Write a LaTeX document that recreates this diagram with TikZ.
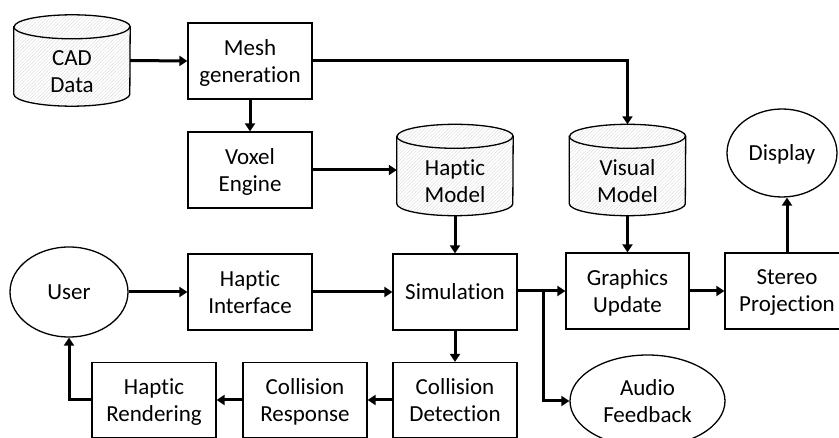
\documentclass[tikz,border=0pt]{standalone}
\usepackage{fontspec}
\setmainfont{Carlito}[Ligatures={NoCommon}]
\usetikzlibrary{arrows.meta,shapes.geometric,patterns.meta,backgrounds}
\begin{document}
\begin{tikzpicture}[x=1pt,y=-1pt,
  txt/.style={font=\fontsize{23}{27}\selectfont, align=center},
  every node/.style={txt, inner sep=0pt},
  % sit the words slightly below the middle of their frame
  lowered/.style={text depth=-10pt},
  proc/.style={draw, line width=1.3pt, minimum width=124pt, minimum height=76pt, lowered},
  % frame of a data store; the drum itself is drawn behind it
  store/.style={minimum width=116pt, minimum height=91pt},
  storetext/.style={txt, yshift=-11pt},
  drum/.style={draw, line width=1.3pt,
    pattern={Lines[angle=45,distance=2.4pt,line width=0.3pt]}, pattern color=gray!35},
  rim/.style={draw, line width=1.3pt},
  actor/.style={ellipse, draw, line width=1.3pt, lowered},
  flow/.style={line width=3pt, -{Triangle[length=8pt,width=10pt]}},
  joint/.style={line width=3pt}
]
\useasboundingbox (0,0) rectangle (839,438);

% data sources and pre-processing
\node[store, label={[storetext]center:CAD\\Data}]     (cad) at (72,60.5)   {};
\node[proc]  (mesh)  at (250,61)    {Mesh\\generation};
\node[proc]  (voxel) at (250,170)   {Voxel\\Engine};
\node[store, label={[storetext]center:Haptic\\Model}] (hm)  at (455,170)   {};
\node[store, label={[storetext]center:Visual\\Model}] (vm)  at (627.5,170) {};
\node[actor, minimum width=110pt, minimum height=88pt] (disp) at (782,153) {Display};

% drums of the data stores (end ellipse radii 58pt x 12pt)
\begin{scope}[on background layer]
\foreach \n in {cad,hm,vm} {
  \path[drum] ([yshift=-12pt]\n.north west) -- ([yshift=12pt]\n.south west)
    arc[start angle=180, end angle=360, x radius=58pt, y radius=12pt]
    -- ([yshift=-12pt]\n.north east)
    arc[start angle=0, end angle=180, x radius=58pt, y radius=12pt] -- cycle;
  \path[rim] ([yshift=-12pt]\n.north west)
    arc[start angle=180, end angle=360, x radius=58pt, y radius=12pt];
}
\end{scope}

% main loop
\node[actor, minimum width=118pt, minimum height=90pt] (user) at (69,292) {User};
\node[proc] (hi)  at (250,292)   {Haptic\\Interface};
\node[proc] (sim) at (455,292)   {Simulation};
\node[proc, minimum width=123pt] (gu) at (627.5,291) {Graphics\\Update};
\node[proc] (sp)  at (787,291)   {Stereo\\Projection};
\node[actor, minimum width=155pt, minimum height=92pt] (audio) at (647.5,401) {Audio\\Feedback};

% haptic feedback chain
\node[proc, minimum height=75pt] (cd) at (455,400) {Collision\\Detection};
\node[proc, minimum height=75pt] (cr) at (305,400) {Collision\\Response};
\node[proc, minimum height=75pt] (hr) at (154,400) {Haptic\\Rendering};

% connectors
\draw[flow] (cad.east) -- (mesh.west);
\draw[flow] (mesh.south) -- (voxel.north);
\draw[flow] (voxel.east) -- (hm.west);
\draw[flow] (mesh.east) -| (vm.north);
\draw[flow] (hm.south) -- (sim.north);
\draw[flow] (vm.south) -- (gu.north);
\draw[flow] (sp.north) -- (sp.north |- disp.south);
\draw[flow] (user.east) -- (hi.west);
\draw[flow] (hi.east) -- (sim.west);
\draw[flow] (sim.east |- gu.west) -- (gu.west);
\coordinate (split) at (543,291);
\draw[joint] (sim.east |- gu.west) -- (split);
\draw[flow] (split) |- (audio.west);
\draw[flow] (gu.east) -- (sp.west);
\draw[flow] (sim.south) -- (cd.north);
\draw[flow] (cd.west) -- (cr.east);
\draw[flow] (cr.west) -- (hr.east);
\draw[flow] (hr.west) -| (user.south);
\end{tikzpicture}
\end{document}
